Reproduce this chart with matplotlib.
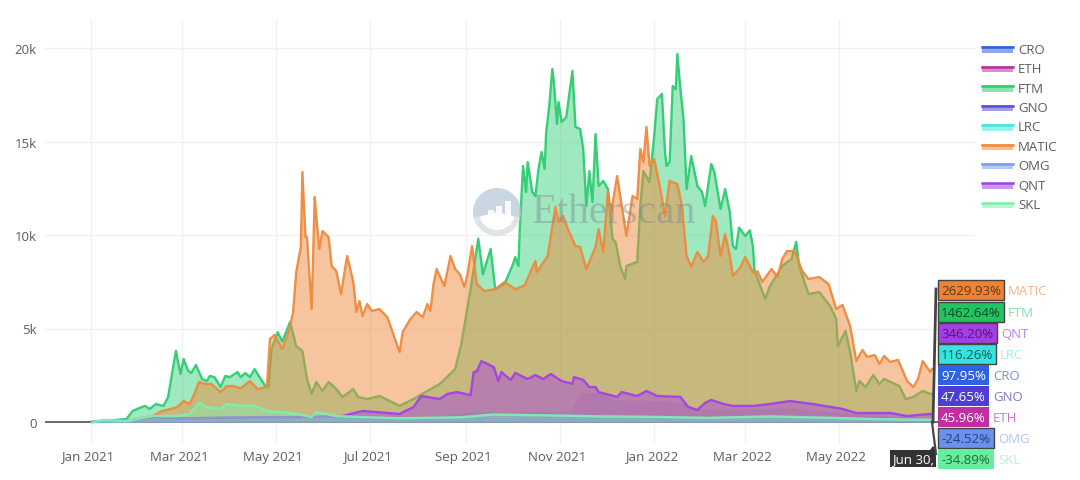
import datetime as dt
import matplotlib
matplotlib.use("Agg")
import matplotlib.pyplot as plt
import matplotlib.dates as mdates
from matplotlib.patches import Rectangle, Wedge, Polygon
from matplotlib.lines import Line2D
from matplotlib.legend_handler import HandlerBase
from matplotlib.transforms import IdentityTransform, ScaledTranslation

plt.rcParams['font.family'] = ['Open Sans', 'DejaVu Sans']

START = dt.date(2021, 1, 1)

ftm_days = [1,23,27,30,35,38,42,47,50,53,55,58,60,63,65,68,72,75,77,80,84,87,90,95,97,100,103,106,110,113,115,117,121,124,129,133,137,140,143,146,150,154,159,163,170,173,179,187,200,209,218,226,236,240,246,251,254,259,262,268,273,275,277,278,280,282,283,286,288,290,292,294,295,297,299,300,302,303,305,308,312,314,317,319,321,323,325,327,329,332,335,338,340,343,346,347,354,356,358,362,365,367,370,372,373,375,377,379,380,382,384,386,389,393,396,398,402,404,408,411,414,416,418,420,424,427,429,430,435,437,440,448,454,457,459,465,472,479,483,484,489,492,496,498,502,507,511,514,524,528,533,539,544,545]
ftm_vals = [0,160,590,700,860,700,960,860,1340,2830,3800,2570,3370,2730,2620,3050,2300,2190,2460,2400,1870,2460,2400,2670,2400,2620,2400,2830,2300,1920,1870,3900,4800,4300,5350,4060,3800,2300,1500,2140,1660,2140,1760,1340,1760,1340,1230,1390,860,1230,1660,2030,2830,4170,7100,9800,7900,9250,7100,7380,8340,8820,8340,10480,13690,12300,13900,12300,12090,13530,14440,13530,15500,16900,18880,18180,15940,17110,16040,16310,18770,15780,15670,14600,11550,13420,11760,15400,12620,12890,12460,9790,9630,8340,7650,8340,8560,11550,13420,12830,15300,17270,17540,14440,13690,13900,17970,17800,19680,17800,16200,12460,14220,12620,12300,11550,13800,13370,11390,12460,11230,9410,9250,10400,9950,10250,9400,8100,7000,6580,7270,8340,8720,9630,8340,6840,6950,6200,5510,4060,4870,3740,1660,2190,1870,2510,2030,2300,1920,1230,1340,1660,1500,1500]

matic_days = [23,40,46,52,56,60,64,67,70,74,78,84,88,92,97,103,108,114,116,119,124,128,129,131,133,136,137,139,140,143,145,146,148,150,154,156,159,162,166,170,172,174,176,179,182,187,192,200,202,207,211,215,218,220,222,224,229,233,236,239,242,244,247,250,255,262,268,275,281,288,289,296,301,303,306,309,314,317,321,327,329,332,335,337,341,344,347,351,354,356,358,360,362,365,369,372,375,380,383,386,389,393,397,400,403,405,408,411,414,416,421,424,429,432,435,441,445,448,451,456,461,465,472,478,483,487,492,496,500,503,508,511,514,518,523,529,533,536,539,544,545]
matic_vals = [50,320,590,700,800,1120,960,1500,2140,2030,2030,1600,1920,1920,1800,2190,1760,1870,4440,4650,3900,4800,5130,5880,8020,9360,13370,9890,9890,6040,12030,11000,9250,10210,9890,8340,8070,6840,8880,7490,5880,6470,5670,6310,5940,6040,5610,3740,4810,5510,5880,5610,6310,5940,7380,8180,7270,8880,8180,7910,7220,7910,9410,7380,7000,7100,7490,7100,7300,8610,8020,8880,11500,10690,11020,10320,9410,9360,8180,9360,10320,9090,12350,11200,13150,11550,9950,12090,11930,14600,13900,15780,13690,14060,12460,11020,12890,12730,11550,8880,8290,9090,8560,8880,11020,10750,8880,10050,8880,7810,8290,8820,8000,8060,7490,8180,7760,8720,9140,9140,8070,7650,7750,7380,6040,6260,5130,3260,3850,3480,3580,3100,3530,3210,3320,2190,1870,2300,3260,2670,2830]

qnt_days = [27,40,60,100,130,163,176,200,209,214,226,231,237,246,248,250,253,261,264,266,272,275,283,288,293,298,305,312,313,319,323,327,329,341,344,354,360,367,382,387,393,398,402,410,416,421,429,440,453,468,487,496,518,529,544,545]
qnt_vals = [100,250,200,250,250,320,590,430,800,1390,1230,1500,1600,1440,2670,2700,3260,2940,2190,2670,2250,2620,2300,2510,2300,2570,2190,2050,2400,2250,1870,1870,1600,1340,1600,1390,1660,1390,1340,800,640,1020,1180,960,860,860,860,960,1120,960,700,480,480,320,430,430]

skl_days = [1,8,23,40,56,64,70,75,84,88,97,106,114,124,133,143,146,159,172,200,240,260,300,330,360,400,440,480,510,545]
skl_vals = [0,110,50,320,320,430,1020,800,700,960,860,860,590,530,430,270,530,320,270,200,250,400,350,300,280,220,300,220,150,120]

small_days = [1,30,60,90,120,150,180,210,240,270,300,330,360,390,420,450,480,510,545]
cro_vals = [5,20,40,60,90,110,90,70,90,120,330,170,150,110,120,110,90,70,60]
eth_vals = [20,30,50,70,100,90,70,60,70,90,120,130,130,100,100,90,80,60,50]
omg_vals = [10,50,110,240,280,260,170,130,170,200,210,170,160,130,130,120,90,70,60]

gno_days = [27,40,60,120,180,226,273,278,304,312,318,330,341,362,382,395,414,451,487,518,545]
gno_vals = [80,120,60,120,100,200,300,520,500,600,1500,1500,1100,1100,1000,650,600,720,450,250,150]

lrc_days = [1,30,60,90,120,150,180,226,239,259,285,311,330,337,356,395,451,466,545]
lrc_vals = [5,40,60,100,130,120,90,250,400,480,350,400,300,200,100,80,270,60,100]

names = ['CRO', 'ETH', 'FTM', 'GNO', 'LRC', 'MATIC', 'OMG', 'QNT', 'SKL']
colors = {'CRO': '#2f62d9', 'ETH': '#b8329e', 'FTM': '#2ecc71', 'GNO': '#5a4fd0',
          'LRC': '#45e6dd', 'MATIC': '#ee8a3e', 'OMG': '#7f9cf0', 'QNT': '#a440e6', 'SKL': '#7ff0b0'}
series = {'CRO': (small_days, cro_vals), 'ETH': (small_days, eth_vals), 'FTM': (ftm_days, ftm_vals),
          'GNO': (gno_days, gno_vals), 'LRC': (lrc_days, lrc_vals), 'MATIC': (matic_days, matic_vals),
          'OMG': (small_days, omg_vals), 'QNT': (qnt_days, qnt_vals), 'SKL': (skl_days, skl_vals)}
fill_alpha = {'MATIC': 0.5, 'GNO': 0.22}
line_alpha = {'GNO': 0.15}

hover_names = ['MATIC', 'FTM', 'QNT', 'LRC', 'CRO', 'GNO', 'ETH', 'OMG', 'SKL']
hover_texts = ['2629.93%', '1462.64%', '346.20%', '116.26%', '97.95%', '47.65%', '45.96%', '-24.52%', '-34.89%']
date_label = 'Jun 30,'

W, H = 1080, 481
fig = plt.figure(figsize=(W / 100, H / 100), dpi=100, facecolor='white')
L, R, T, B = 45, 975, 20, 445
ax = fig.add_axes([L / W, 1 - B / H, (R - L) / W, (B - T) / H])
to_date = lambda d: START + dt.timedelta(days=d)

y_per_px = 20000 / (423 - 49)
ax.set_ylim((423 - B) * y_per_px, (423 - T) * y_per_px)
x0 = mdates.date2num(START)
ax.set_xlim(x0 + (L - 91) / 1.543, x0 + (R - 91) / 1.543)

for n in names:
    d, v = series[n]
    xs = [to_date(i) for i in d]
    ax.fill_between(xs, 0, v, color=colors[n], alpha=fill_alpha.get(n, 0.45), lw=0, zorder=2)
    ax.plot(xs, v, color=colors[n], lw=1.7, zorder=2, solid_joinstyle='round', alpha=line_alpha.get(n, 0.95))

ax.axhline(0, color='#444444', lw=1.1, zorder=1.5)
ax.set_yticks([0, 5000, 10000, 15000, 20000])
ax.set_yticklabels(['0', '5k', '10k', '15k', '20k'])
ticks = [dt.date(2021, 1, 1), dt.date(2021, 3, 1), dt.date(2021, 5, 1), dt.date(2021, 7, 1), dt.date(2021, 9, 1),
         dt.date(2021, 11, 1), dt.date(2022, 1, 1), dt.date(2022, 3, 1), dt.date(2022, 5, 1)]
ax.set_xticks(ticks)
ax.set_xticklabels([t.strftime('%b %Y') for t in ticks])
ax.grid(True, color='#f1f1f1', lw=1)
ax.set_axisbelow(True)
ax.tick_params(length=0, labelsize=9.5, labelcolor='#5c5c5c', pad=6)
ax.tick_params(axis='x', pad=4)
shift = ScaledTranslation(-3 / 100, 0, fig.dpi_scale_trans)
for lab in ax.get_xticklabels():
    lab.set_transform(lab.get_transform() + shift)
for s in ax.spines.values():
    s.set_visible(False)


class BandHandler(HandlerBase):
    def create_artists(self, legend, orig, xd, yd, w, h, fs, trans):
        c = orig.get_color()
        r = Rectangle((xd, yd + h * 0.05), w, h * 0.75, fc=c, alpha=0.55, ec='none', transform=trans)
        ln = Line2D([xd, xd + w], [yd + h * 0.7] * 2, color=c, lw=1.8, transform=trans)
        return [r, ln]


handles = [Line2D([], [], color=colors[n]) for n in names]
leg = fig.legend(handles, names, loc='upper left', bbox_to_anchor=(979 / W, 1 - 41 / H), frameon=False,
                 handler_map={Line2D: BandHandler()}, fontsize=9.5, labelcolor='#5c5c5c', handlelength=2.35,
                 handletextpad=0.4, labelspacing=0.49, handleheight=0.6, borderpad=0.2, borderaxespad=0)


def py(y):
    return H - y


# watermark (Etherscan logo and name)
idt = IdentityTransform()
fig.add_artist(Wedge((497, py(213)), 24, -15, 195, fc='#b9cad9', alpha=0.75, ec='none', transform=idt))
fig.add_artist(Wedge((497, py(213)), 24, 195, 345, width=6, fc='#d9dee2', alpha=0.8, ec='none', transform=idt))
for bx, by in zip([488, 496, 505], [211, 207, 202]):
    fig.add_artist(Rectangle((bx, py(226)), 6, 226 - by, fc='white', alpha=0.9, ec='none', transform=idt))
fig.text(532 / W, 1 - 213 / H, 'Etherscan', family=['Liberation Serif', 'DejaVu Serif'], fontsize=30,
         color='#76868c', alpha=0.42, va='center', ha='left', zorder=5)

# hover labels
tops = [281, 303, 324, 345, 366, 387, 408, 429, 450]
widths = [66, 66, 59, 58, 51, 51, 51, 56, 56]
box_cols = ['#ee8236', '#22c462', '#a63ee6', '#35e3e0', '#2f62e0', '#4b3fd6', '#c02ea2', '#6c90ee', '#66ee9e']
txt_cols = ['#5a3a1a', '#0f4a25', '#4a1f6a', '#155a58', 'white', 'white', 'white', '#24407a', '#1e6a40']
name_cols = ['#f5b48a', '#86e3ab', '#b888e6', '#a5ece8', '#7c8fd8', '#7f78d0', '#cf7ab8', '#b0c2ee', '#b8f2d0']
edge_cols = ['#444444', '#444444', '#444444', '#444444', 'none', 'none', 'none', '#444444', 'none']
# leader lines
fig.add_artist(Line2D([933, 936], [py(423), py(290)], color='#444444', lw=2, transform=idt))
fig.add_artist(Line2D([932, 936], [py(423), py(455)], color='#444444', lw=1.6, transform=idt))
for t, w, bc, tc, nc, ec, txt, nm in zip(tops, widths, box_cols, txt_cols, name_cols, edge_cols, hover_texts, hover_names):
    fig.add_artist(Rectangle((938, py(t + 20)), w, 20, fc=bc, ec=ec, lw=1.0, transform=idt))
    fig.text((938 + w / 2) / W, 1 - (t + 10.5) / H, txt, fontsize=9.5, color=tc, ha='center', va='center')
    fig.text((938 + w + 4) / W, 1 - (t + 10.5) / H, nm, fontsize=9.5, color=nc, ha='left', va='center')

fig.add_artist(Polygon([(890, py(451)), (930, py(451)), (933, py(447)), (936, py(451)), (936, py(468)), (890, py(468))],
                       closed=True, fc='#333333', ec='none', transform=idt))
fig.text(913 / W, 1 - 460 / H, date_label, fontsize=9.5, color='white', ha='center', va='center')

fig.savefig('out.png', dpi=100)
